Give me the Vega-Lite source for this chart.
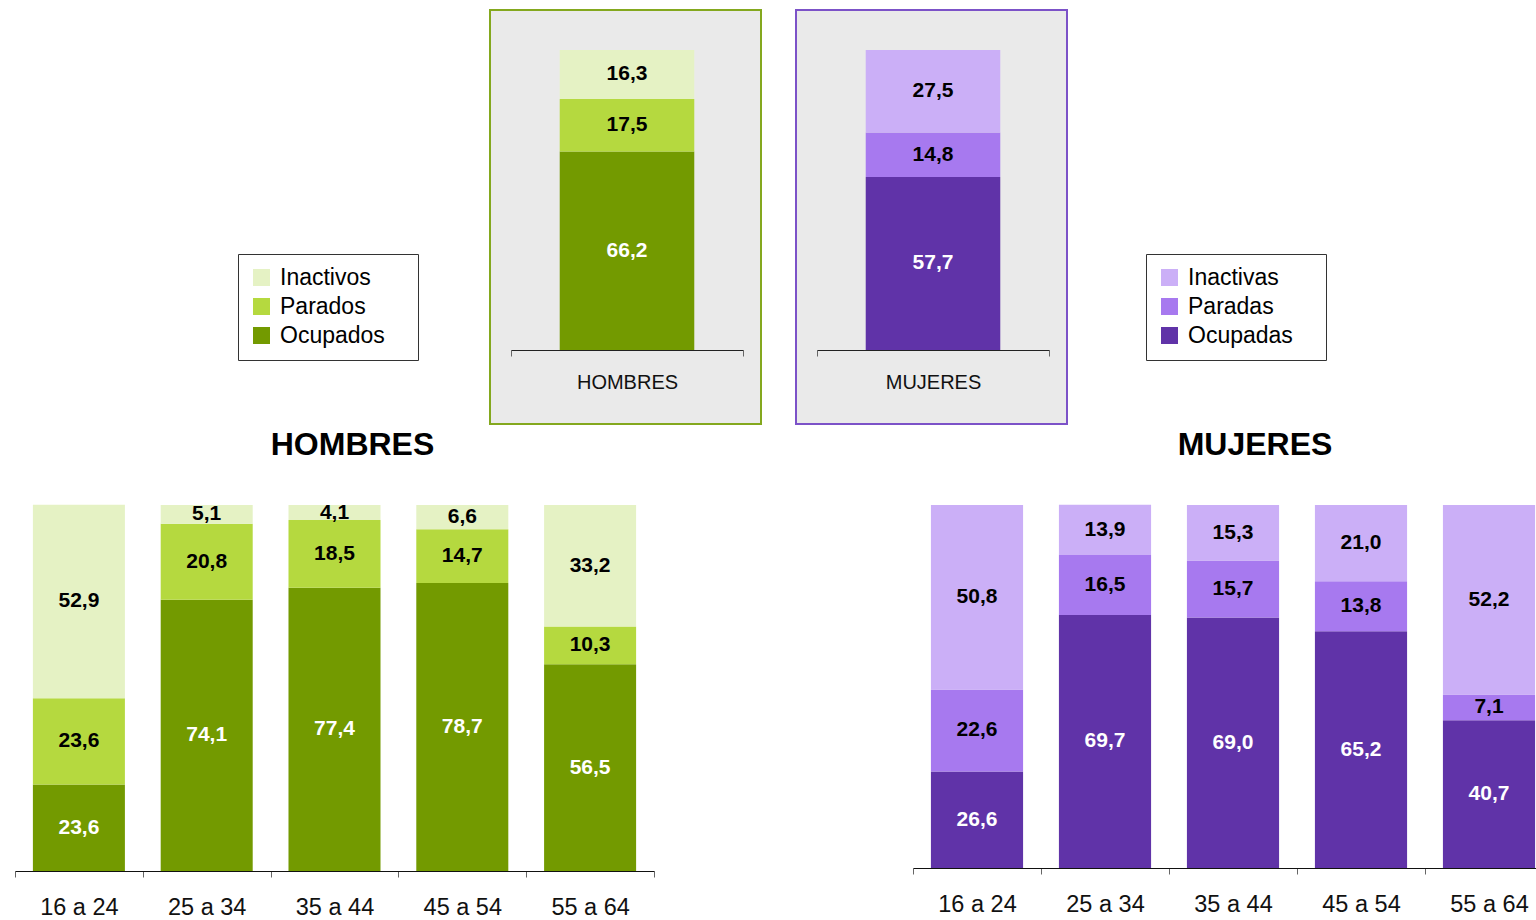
{
  "$schema": "https://vega.github.io/schema/vega-lite/v6.json",
  "padding": {"left": 14, "top": 9, "right": -16, "bottom": 0},
  "background": "white",
  "config": {
    "locale": {"number": {"decimal": ",", "thousands": ".", "grouping": [3], "currency": ["", " €"]}},
    "view": {"stroke": null},
    "font": "Liberation Sans"
  },
  "datasets": {
    "ht": [
      {"grupo": "HOMBRES", "tipo": "Ocupados", "valor": 66.2},
      {"grupo": "HOMBRES", "tipo": "Parados", "valor": 17.5},
      {"grupo": "HOMBRES", "tipo": "Inactivos", "valor": 16.3}
    ],
    "mt": [
      {"grupo": "MUJERES", "tipo": "Ocupadas", "valor": 57.7},
      {"grupo": "MUJERES", "tipo": "Paradas", "valor": 14.8},
      {"grupo": "MUJERES", "tipo": "Inactivas", "valor": 27.5}
    ],
    "hb": [
      {"grupo": "16 a 24", "tipo": "Ocupados", "valor": 23.6},
      {"grupo": "16 a 24", "tipo": "Parados", "valor": 23.6},
      {"grupo": "16 a 24", "tipo": "Inactivos", "valor": 52.9},
      {"grupo": "25 a 34", "tipo": "Ocupados", "valor": 74.1},
      {"grupo": "25 a 34", "tipo": "Parados", "valor": 20.8},
      {"grupo": "25 a 34", "tipo": "Inactivos", "valor": 5.1},
      {"grupo": "35 a 44", "tipo": "Ocupados", "valor": 77.4},
      {"grupo": "35 a 44", "tipo": "Parados", "valor": 18.5},
      {"grupo": "35 a 44", "tipo": "Inactivos", "valor": 4.1},
      {"grupo": "45 a 54", "tipo": "Ocupados", "valor": 78.7},
      {"grupo": "45 a 54", "tipo": "Parados", "valor": 14.7},
      {"grupo": "45 a 54", "tipo": "Inactivos", "valor": 6.6},
      {"grupo": "55 a 64", "tipo": "Ocupados", "valor": 56.5},
      {"grupo": "55 a 64", "tipo": "Parados", "valor": 10.3},
      {"grupo": "55 a 64", "tipo": "Inactivos", "valor": 33.2}
    ],
    "mb": [
      {"grupo": "16 a 24", "tipo": "Ocupadas", "valor": 26.6},
      {"grupo": "16 a 24", "tipo": "Paradas", "valor": 22.6},
      {"grupo": "16 a 24", "tipo": "Inactivas", "valor": 50.8},
      {"grupo": "25 a 34", "tipo": "Ocupadas", "valor": 69.7},
      {"grupo": "25 a 34", "tipo": "Paradas", "valor": 16.5},
      {"grupo": "25 a 34", "tipo": "Inactivas", "valor": 13.9},
      {"grupo": "35 a 44", "tipo": "Ocupadas", "valor": 69.0},
      {"grupo": "35 a 44", "tipo": "Paradas", "valor": 15.7},
      {"grupo": "35 a 44", "tipo": "Inactivas", "valor": 15.3},
      {"grupo": "45 a 54", "tipo": "Ocupadas", "valor": 65.2},
      {"grupo": "45 a 54", "tipo": "Paradas", "valor": 13.8},
      {"grupo": "45 a 54", "tipo": "Inactivas", "valor": 21.0},
      {"grupo": "55 a 64", "tipo": "Ocupadas", "valor": 40.7},
      {"grupo": "55 a 64", "tipo": "Paradas", "valor": 7.1},
      {"grupo": "55 a 64", "tipo": "Inactivas", "valor": 52.2}
    ]
  },
  "spacing": 3,
  "resolve": {"scale": {"color": "independent", "x": "independent", "y": "independent"}},
  "vconcat": [
    {
      "bounds": "flush",
      "spacing": 35,
      "resolve": {"scale": {"color": "independent", "x": "independent", "y": "independent"}},
      "hconcat": [
        {
          "width": 440, "height": 414,
          "data": {"values": []},
          "mark": {"type": "text"},
          "encoding": {}
        },
        {
          "width": 271, "height": 414,
          "view": {"fill": "#eaeaea", "stroke": "#84a81e", "strokeWidth": 2},
          "data": {"name": "ht"},
          "transform": [{"calculate": "indexof(['Ocupados','Parados','Inactivos'], datum.tipo)", "as": "orden"}],
          "encoding": {
            "x": {"field": "grupo", "type": "nominal", "scale": {"range": [21, 253], "paddingInner": 0, "paddingOuter": 0},
              "axis": {"title": null, "offset": -74, "domainColor": "#222", "tickColor": "#666", "tickSize": 6, "tickBand": "extent", "labelAngle": 0, "labelFontSize": 20, "labelFont": "Liberation Sans", "labelPadding": 16, "labelColor": "#111"}},
            "y": {"field": "valor", "type": "quantitative", "stack": "zero", "scale": {"domain": [-24.667, 113.333], "nice": false, "zero": false}, "axis": null},
            "order": {"field": "orden", "type": "quantitative"},
            "color": {"field": "tipo", "type": "nominal",
              "scale": {"domain": ["Inactivos", "Parados", "Ocupados"], "range": ["#e5f2c4", "#b5d93f", "#739a00"]},
              "legend": {"orient": "none", "legendX": -252, "legendY": 244, "title": null, "strokeColor": "#333", "fillColor": "white", "padding": 12, "symbolType": "square", "symbolSize": 289, "symbolStrokeWidth": 0, "symbolOpacity": 1, "labelFontSize": 23, "labelFont": "Liberation Sans", "labelColor": "black", "rowPadding": 5, "labelOffset": 7, "labelExpr": "datum.label + '   \u200a\u200b'"}}
          },
          "layer": [
            {"mark": {"type": "bar", "width": {"band": 0.58}}},
            {"mark": {"type": "text", "fontSize": 21, "fontWeight": "bold", "font": "Liberation Sans"},
              "encoding": {
                "y": {"field": "valor", "type": "quantitative", "stack": "zero", "bandPosition": 0.5},
                "text": {"field": "valor", "type": "quantitative", "format": ".1f"},
                "fill": {"condition": {"test": "datum.tipo === 'Ocupados'", "value": "white"}, "value": "black"}
              }}
          ]
        },
        {
          "width": 271, "height": 414,
          "view": {"fill": "#eaeaea", "stroke": "#7c52c8", "strokeWidth": 2},
          "data": {"name": "mt"},
          "transform": [{"calculate": "indexof(['Ocupadas','Paradas','Inactivas'], datum.tipo)", "as": "orden"}],
          "encoding": {
            "x": {"field": "grupo", "type": "nominal", "scale": {"range": [21, 253], "paddingInner": 0, "paddingOuter": 0},
              "axis": {"title": null, "offset": -74, "domainColor": "#222", "tickColor": "#666", "tickSize": 6, "tickBand": "extent", "labelAngle": 0, "labelFontSize": 20, "labelFont": "Liberation Sans", "labelPadding": 16, "labelColor": "#111"}},
            "y": {"field": "valor", "type": "quantitative", "stack": "zero", "scale": {"domain": [-24.667, 113.333], "nice": false, "zero": false}, "axis": null},
            "order": {"field": "orden", "type": "quantitative"},
            "color": {"field": "tipo", "type": "nominal",
              "scale": {"domain": ["Inactivas", "Paradas", "Ocupadas"], "range": ["#cbaff7", "#a779ef", "#6033a8"]},
              "legend": {"orient": "none", "legendX": 350, "legendY": 244, "title": null, "strokeColor": "#333", "fillColor": "white", "padding": 12, "symbolType": "square", "symbolSize": 289, "symbolStrokeWidth": 0, "symbolOpacity": 1, "labelFontSize": 23, "labelFont": "Liberation Sans", "labelColor": "black", "rowPadding": 5, "labelOffset": 7, "labelExpr": "datum.label + '   \u200a\u200b'"}}
          },
          "layer": [
            {"mark": {"type": "bar", "width": {"band": 0.58}}},
            {"mark": {"type": "text", "fontSize": 21, "fontWeight": "bold", "font": "Liberation Sans"},
              "encoding": {
                "y": {"field": "valor", "type": "quantitative", "stack": "zero", "bandPosition": 0.5},
                "text": {"field": "valor", "type": "quantitative", "format": ".1f"},
                "fill": {"condition": {"test": "datum.tipo === 'Ocupadas'", "value": "white"}, "value": "black"}
              }}
          ]
        }
      ]
    },
    {
      "bounds": "flush",
      "spacing": 259,
      "resolve": {"scale": {"color": "independent", "x": "independent", "y": "independent"}},
      "hconcat": [
        {
          "width": 639, "height": 366,
          "title": {"text": "HOMBRES", "fontSize": 32, "fontWeight": "bold", "font": "Liberation Sans", "color": "black", "baseline": "alphabetic", "offset": 15, "frame": "group", "anchor": "middle", "dx": 18},
          "data": {"name": "hb"},
          "transform": [{"calculate": "indexof(['Ocupados','Parados','Inactivos'], datum.tipo)", "as": "orden"}],
          "encoding": {
            "x": {"field": "grupo", "type": "nominal", "sort": null, "scale": {"paddingInner": 0, "paddingOuter": 0},
              "axis": {"title": null, "domainColor": "#111", "tickColor": "#666", "tickSize": 6, "tickBand": "extent", "labelAngle": 0, "labelFontSize": 23.5, "labelFont": "Liberation Sans", "labelPadding": 18, "labelColor": "#111"}},
            "y": {"field": "valor", "type": "quantitative", "stack": "zero", "scale": {"domain": [0, 100], "nice": false}, "axis": null},
            "order": {"field": "orden", "type": "quantitative"},
            "color": {"field": "tipo", "type": "nominal",
              "scale": {"domain": ["Inactivos", "Parados", "Ocupados"], "range": ["#e5f2c4", "#b5d93f", "#739a00"]}, "legend": null}
          },
          "layer": [
            {"mark": {"type": "bar", "width": {"band": 0.72}}},
            {"mark": {"type": "text", "fontSize": 21, "fontWeight": "bold", "font": "Liberation Sans"},
              "encoding": {
                "y": {"field": "valor", "type": "quantitative", "stack": "zero", "bandPosition": 0.5},
                "text": {"field": "valor", "type": "quantitative", "format": ".1f"},
                "fill": {"condition": {"test": "datum.tipo === 'Ocupados'", "value": "white"}, "value": "black"}
              }}
          ]
        },
        {
          "width": 640, "height": 363,
          "title": {"text": "MUJERES", "fontSize": 32, "fontWeight": "bold", "font": "Liberation Sans", "color": "black", "baseline": "alphabetic", "offset": 18, "frame": "group", "anchor": "middle", "dx": 22},
          "data": {"name": "mb"},
          "transform": [{"calculate": "indexof(['Ocupadas','Paradas','Inactivas'], datum.tipo)", "as": "orden"}],
          "encoding": {
            "x": {"field": "grupo", "type": "nominal", "sort": null, "scale": {"paddingInner": 0, "paddingOuter": 0},
              "axis": {"title": null, "domainColor": "#111", "tickColor": "#666", "tickSize": 6, "tickBand": "extent", "labelAngle": 0, "labelFontSize": 23.5, "labelFont": "Liberation Sans", "labelPadding": 18, "labelColor": "#111"}},
            "y": {"field": "valor", "type": "quantitative", "stack": "zero", "scale": {"domain": [0, 100], "nice": false}, "axis": null},
            "order": {"field": "orden", "type": "quantitative"},
            "color": {"field": "tipo", "type": "nominal",
              "scale": {"domain": ["Inactivas", "Paradas", "Ocupadas"], "range": ["#cbaff7", "#a779ef", "#6033a8"]}, "legend": null}
          },
          "layer": [
            {"mark": {"type": "bar", "width": {"band": 0.72}}},
            {"mark": {"type": "text", "fontSize": 21, "fontWeight": "bold", "font": "Liberation Sans"},
              "encoding": {
                "y": {"field": "valor", "type": "quantitative", "stack": "zero", "bandPosition": 0.5},
                "text": {"field": "valor", "type": "quantitative", "format": ".1f"},
                "fill": {"condition": {"test": "datum.tipo === 'Ocupadas'", "value": "white"}, "value": "black"}
              }}
          ]
        }
      ]
    }
  ]
}
